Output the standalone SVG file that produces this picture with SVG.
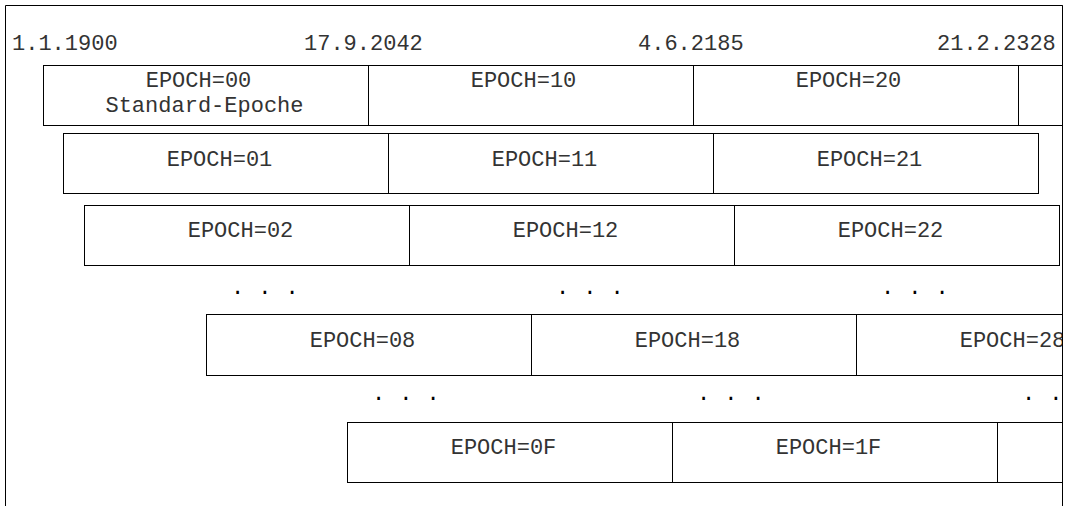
<svg xmlns="http://www.w3.org/2000/svg" width="1070" height="506" viewBox="0 0 1070 506">
<style>
.c{fill:#fff;stroke:#000;stroke-width:1}
.t{font-family:"Liberation Mono","DejaVu Sans Mono",monospace;font-size:22px;fill:#333}
.m{text-anchor:middle}
.d{font-family:"Liberation Mono","DejaVu Sans Mono",monospace;font-size:22px;fill:#000;letter-spacing:0.45px}
.f{fill:none;stroke:#000;stroke-width:1}
</style>
<defs>
<clipPath id="clip"><rect x="0" y="0" width="1062.5" height="506"/></clipPath>
</defs>
<rect x="0" y="0" width="1070" height="506" fill="#fff"/>
<g id="frame">
<path class="f" d="M5.5 506V5.5H1062.5V506"/>
</g>
<g id="dates">
<text class="t" x="12" y="50">1.1.1900</text>
<text class="t" x="304" y="50">17.9.2042</text>
<text class="t" x="638" y="50">4.6.2185</text>
<text class="t" x="937" y="50">21.2.2328</text>
</g>
<g clip-path="url(#clip)">
<g id="row0">
<g id="epoch00"><rect class="c" x="43.5" y="65.5" width="325" height="60"/><text class="t m" x="198.5" y="87">EPOCH=00</text><text class="t m" x="204.5" y="112">Standard-Epoche</text></g>
<g id="epoch10"><rect class="c" x="368.5" y="65.5" width="325" height="60"/><text class="t m" x="523.5" y="87">EPOCH=10</text></g>
<g id="epoch20"><rect class="c" x="693.5" y="65.5" width="325" height="60"/><text class="t m" x="848.5" y="87">EPOCH=20</text></g>
<g id="epoch30"><rect class="c" x="1018.5" y="65.5" width="325" height="60"/></g>
</g>
<g id="row1">
<g id="epoch01"><rect class="c" x="63.5" y="133.5" width="325" height="60"/><text class="t m" x="219.5" y="166">EPOCH=01</text></g>
<g id="epoch11"><rect class="c" x="388.5" y="133.5" width="325" height="60"/><text class="t m" x="544.5" y="166">EPOCH=11</text></g>
<g id="epoch21"><rect class="c" x="713.5" y="133.5" width="325" height="60"/><text class="t m" x="869.5" y="166">EPOCH=21</text></g>
</g>
<g id="row2">
<g id="epoch02"><rect class="c" x="84.5" y="205.5" width="325" height="60"/><text class="t m" x="240.5" y="237">EPOCH=02</text></g>
<g id="epoch12"><rect class="c" x="409.5" y="205.5" width="325" height="60"/><text class="t m" x="565.5" y="237">EPOCH=12</text></g>
<g id="epoch22"><rect class="c" x="734.5" y="205.5" width="325" height="60"/><text class="t m" x="890.5" y="237">EPOCH=22</text></g>
</g>
<g id="dots1">
<text class="d" x="231" y="294">. . .</text>
<text class="d" x="556" y="294">. . .</text>
<text class="d" x="881" y="294">. . .</text>
</g>
<g id="row8">
<g id="epoch08"><rect class="c" x="206.5" y="314.5" width="325" height="61"/><text class="t m" x="362.5" y="347">EPOCH=08</text></g>
<g id="epoch18"><rect class="c" x="531.5" y="314.5" width="325" height="61"/><text class="t m" x="687.5" y="347">EPOCH=18</text></g>
<g id="epoch28"><rect class="c" x="856.5" y="314.5" width="325" height="61"/><text class="t m" x="1012.5" y="347">EPOCH=28</text></g>
</g>
<g id="dots2">
<text class="d" x="372" y="400">. . .</text>
<text class="d" x="697" y="400">. . .</text>
<text class="d" x="1022" y="400">. . .</text>
</g>
<g id="rowF">
<g id="epoch0F"><rect class="c" x="347.5" y="422.5" width="325" height="60"/><text class="t m" x="503.5" y="454">EPOCH=0F</text></g>
<g id="epoch1F"><rect class="c" x="672.5" y="422.5" width="325" height="60"/><text class="t m" x="828.5" y="454">EPOCH=1F</text></g>
<g id="epoch2F"><rect class="c" x="997.5" y="422.5" width="325" height="60"/></g>
</g>
</g>
<g id="connectors"></g>
<path class="f" d="M1062.5 5.5V506"/>
</svg>
